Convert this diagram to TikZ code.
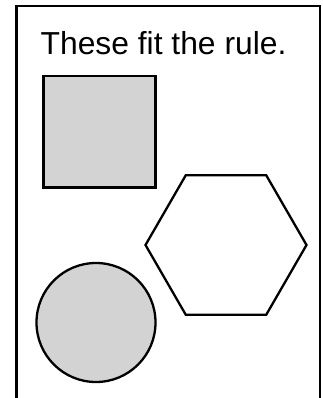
\documentclass[tikz,border=0pt]{standalone}
\usepackage{fontspec}
\setmainfont{Liberation Sans}
\definecolor{shapegray}{RGB}{211,211,211}
\begin{document}
\begin{tikzpicture}[x=1pt,y=-1pt,
  framestyle/.style={line width=2.5pt},
  shapestyle/.style={line width=2.3pt, draw=black, line join=miter},
  filled/.style={shapestyle, fill=shapegray}]
\useasboundingbox (0,0) rectangle (323,398);
\draw[framestyle] (16.5,400) -- (16.5,6) -- (319.8,6) -- (319.8,400);
\node[anchor=base west, inner sep=0pt, font=\fontsize{31.8}{38}\selectfont] (title) at (40.5,55) {These fit the rule.};
\draw[filled] (43.5,75.8) rectangle (155.5,187.5);
\draw[shapestyle] (226,245) ++(0:80.5) -- ++(120:80.5) -- ++(180:80.5) -- ++(240:80.5) -- ++(300:80.5) -- ++(0:80.5) -- cycle;
\draw[filled] (96,322.5) circle (59.5);
\end{tikzpicture}
\end{document}
